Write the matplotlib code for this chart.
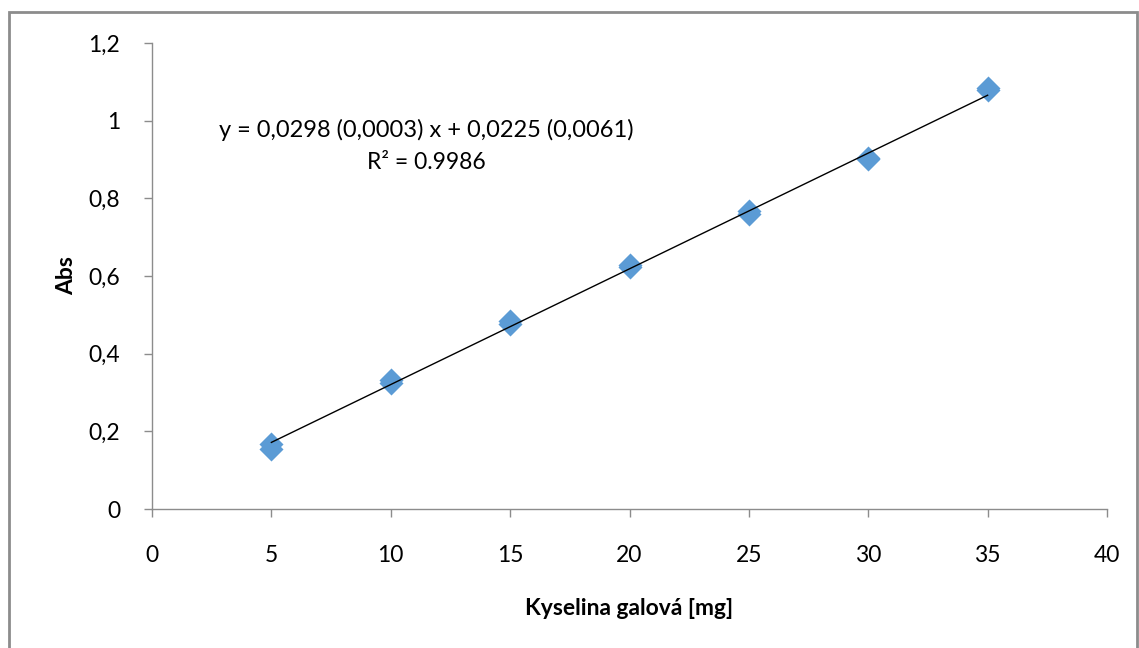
import matplotlib.pyplot as plt
from matplotlib.patches import Rectangle
from matplotlib.ticker import FuncFormatter

plt.rcParams['font.family'] = ['Lato', 'DejaVu Sans']

mass = [5, 5, 10, 10, 15, 15, 20, 20, 25, 25, 30, 30, 35, 35]
absorbance = [0.155, 0.168, 0.325, 0.333, 0.477, 0.484, 0.624, 0.628, 0.760, 0.767, 0.900, 0.903, 1.080, 1.083]

slope = 0.0298
intercept = 0.0225
fit_x = [5, 35]
fit_y = [slope * v + intercept for v in fit_x]

xticks = [0, 5, 10, 15, 20, 25, 30, 35, 40]
yticks = [0, 0.2, 0.4, 0.6, 0.8, 1.0, 1.2]

fig = plt.figure(figsize=(11.39, 6.48), dpi=100)
ax = fig.add_axes([152 / 1139, 1 - 509 / 648, (1107 - 152) / 1139, (509 - 43) / 648])

# chart frame around everything
fig.patches.append(Rectangle((9 / 1139, -5 / 648), 1128 / 1139, 641 / 648,
                             transform=fig.transFigure, fill=False,
                             edgecolor='#8c8c8c', linewidth=2))

ax.scatter(mass, absorbance, marker='D', s=150, color='#5b9bd5', zorder=3, linewidths=0)
ax.plot(fit_x, fit_y, color='black', linewidth=1, zorder=4)

ax.set_xlim(0, 40)
ax.set_ylim(0, 1.2)
ax.set_xticks(xticks)
ax.set_yticks(yticks)
ax.yaxis.set_major_formatter(FuncFormatter(lambda v, p: ('%g' % round(v, 1)).replace('.', ',')))

for side in ['top', 'right']:
    ax.spines[side].set_visible(False)
for side in ['left', 'bottom']:
    ax.spines[side].set_color('#8c8c8c')
    ax.spines[side].set_linewidth(1)
ax.tick_params(direction='out', length=6, width=1, color='#8c8c8c', labelsize=16.5)
ax.tick_params(axis='x', pad=20)
ax.tick_params(axis='y', pad=17)

ax.set_xlabel('Kyselina galová [mg]', fontsize=16.5, fontweight='bold', labelpad=23)
ax.set_ylabel('Abs', fontsize=16.5, fontweight='bold', labelpad=8)

ax.text(11.5, 0.976, 'y = 0,0298 (0,0003) x + 0,0225 (0,0061)', ha='center', va='center', fontsize=17)
ax.text(11.5, 0.893, 'R² = 0.9986', ha='center', va='center', fontsize=16.5)

fig.savefig('out.png', dpi=100)
